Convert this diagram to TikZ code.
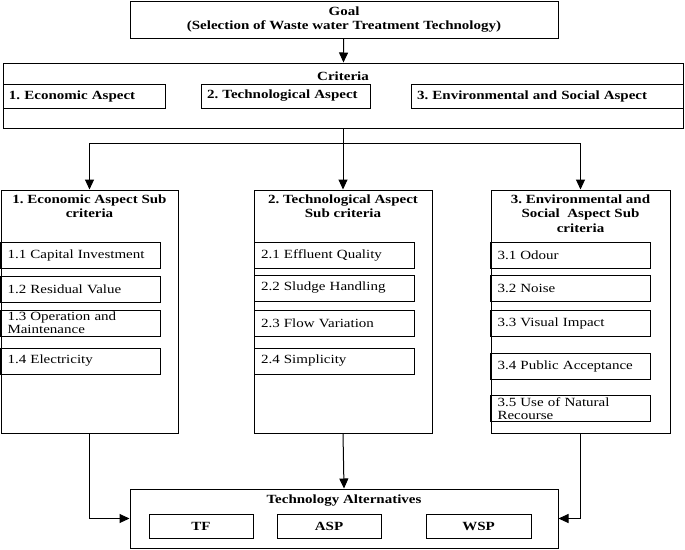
\documentclass[tikz,border=0pt]{standalone}
\usepackage{fontspec}
\setmainfont{Liberation Serif}[FakeStretch=1.2]
\usetikzlibrary{arrows.meta,positioning}

\tikzset{
  box/.style={draw, line width=1pt, inner sep=0pt},
  head/.style={font=\bfseries\fontsize{12.5}{14.5}\selectfont, align=center, inner sep=0pt},
  aspect/.style={box, minimum height=24pt, text width=#1, inner xsep=6pt, align=left,
    font=\bfseries\fontsize{12.5}{14}\selectfont},
  item/.style={box, minimum height=26pt, text width=146pt, inner xsep=7pt, align=left,
    font=\fontsize{12.5}{14}\selectfont},
  alt/.style={box, minimum height=24pt, minimum width=104pt, font=\bfseries\fontsize{12.5}{14}\selectfont},
  link/.style={line width=1pt, -{Triangle[length=10pt,width=9pt]}}
}

\begin{document}
\frenchspacing
\begin{tikzpicture}[x=1pt, y=-1pt]
\useasboundingbox (0,0) rectangle (685,549);

% goal
\node[box, head, minimum width=428pt, minimum height=37pt] (goal) at (344,19.5)
  {Goal\\(Selection of Waste water Treatment Technology)};

% criteria
\node[box, minimum width=680pt, minimum height=65pt] (crit) at (343,95.5) {};
\node[head] (critt) at (343,76) {Criteria};
\node[aspect=150pt] (a1) at (84,96) {1. Economic Aspect};
\node[aspect=157pt] (a2) at (285.5,96) {2. Technological Aspect};
\node[aspect=260pt] (a3) at (547,96) {3. Environmental and Social Aspect};

% sub criteria
\node[box, minimum width=177pt, minimum height=243pt] (col1) at (89.5,311.5) {};
\node[box, minimum width=178pt, minimum height=243pt] (col2) at (343,311.5) {};
\node[box, minimum width=179pt, minimum height=243pt] (col3) at (580.5,311.5) {};

\node[head, below=5pt of col1.north] (t1) {1. Economic Aspect Sub\\criteria};
\node[head, below=5pt of col2.north] (t2) {2. Technological Aspect\\Sub criteria};
\node[head, below=5pt of col3.north] (t3) {3. Environmental and\\Social \ Aspect Sub\\criteria};

\node[item] (e1) at (80.5,255) {1.1 Capital Investment};
\node[item] (e2) at (80.5,289) {1.2 Residual Value};
\node[item] (e3) at (80.5,323) {1.3 Operation and\\[-1pt]Maintenance};
\node[item] (e4) at (80.5,361) {1.4 Electricity};

\node[item] (g1) at (334,255) {2.1 Effluent Quality};
\node[item] (g2) at (334,288) {2.2 Sludge Handling};
\node[item] (g3) at (334,323) {2.3 Flow Variation};
\node[item] (g4) at (334,361) {2.4 Simplicity};

\node[item] (s1) at (570.5,255) {3.1 Odour};
\node[item] (s2) at (570.5,288.5) {3.2 Noise};
\node[item] (s3) at (570.5,323) {3.3 Visual Impact};
\node[item] (s4) at (570.5,366) {3.4 Public Acceptance};
\node[item] (s5) at (570.5,408.5) {3.5 Use of Natural\\[-1pt]Recourse};

% alternatives
\node[box, minimum width=428pt, minimum height=59pt] (tech) at (344,518.5) {};
\node[head] (techt) at (344,501) {Technology Alternatives};
\node[alt] (tf) at (201,526) {TF};
\node[alt] (asp) at (329,526) {ASP};
\node[alt, minimum width=105pt] (wsp) at (478.5,526) {WSP};

% connectors
\coordinate (split) at (343,143);
\draw[link] (goal) -- (crit);
\draw[line width=1pt] (crit.south) -- (split);
\draw[link] (split) -| (col1.north);
\draw[link] (split) -- (col2.north);
\draw[link] (split) -| (col3.north);
\draw[link] (col1.south) |- (tech.west);
\draw[link] (col2.south) -- (tech.north);
\draw[link] (col3.south) |- (tech.east);

\end{tikzpicture}
\end{document}
